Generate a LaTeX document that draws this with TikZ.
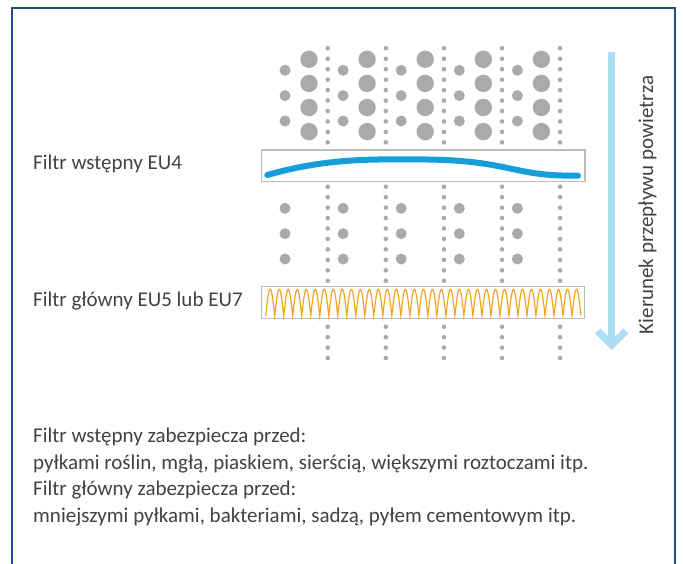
\documentclass[tikz,border=0pt]{standalone}
\usepackage{fontspec}
\setmainfont{Carlito}
\usepackage{xcolor}
\definecolor{framebl}{RGB}{30,78,140}
\definecolor{dotgray}{RGB}{170,170,172}
\definecolor{boxgray}{RGB}{188,188,188}
\definecolor{prefblue}{RGB}{22,158,218}
\definecolor{mainorange}{RGB}{245,165,35}
\definecolor{flowblue}{RGB}{172,221,243}
\definecolor{txtgray}{RGB}{66,66,66}

\begin{document}
\begin{tikzpicture}[x=1pt, y=-1pt,
		filterbox/.style={draw=boxgray, line width=1.5pt, fill=white},
		lbl/.style={font=\fontsize{21}{25}\selectfont, text=txtgray, inner sep=0pt, anchor=base west},
		flow/.style={draw=flowblue, line width=7.3pt}]
		\useasboundingbox (0,0) rectangle (683,563);
		\draw[framebl, line width=1.5pt] (12,580) -- (12,8) -- (675,8) -- (675,580);
		% kolumny kropek
		\foreach \i in {0,...,4} {
			\foreach \j in {0,...,9} {
				\fill[dotgray] (327.7+58.1*\i, 48.3+10.45*\j) circle (2.3pt);
				\fill[dotgray] (327.7+58.1*\i, 186.7+10.45*\j) circle (2.3pt);
			}
			\foreach \j in {0,...,3} {
				\fill[dotgray] (327.7+58.1*\i, 326.7+10.45*\j) circle (2.3pt);
				\fill[dotgray] (309+58.1*\i, 59.3+24.1*\j) circle (8.7pt);
			}
			\foreach \j in {0,...,2} {
				\fill[dotgray] (285+58.1*\i, 70.3+25.35*\j) circle (5.5pt);
				\fill[dotgray] (285+58.1*\i, 208.3+25.35*\j) circle (5.5pt);
			}
		}
		% filtr wstepny
		\draw[filterbox] (261.7,150) rectangle (585,181.7);
		\draw[prefblue, line width=6pt, line cap=round] (267.3,175) .. controls (320,160) and (360,159.3) .. (405,159.3)
			.. controls (460,159.3) and (480,162) .. (515,169.5) .. controls (540,175) and (555,175.7) .. (578,175.7);
		% filtr glowny
		\draw[filterbox] (261.7,286.7) rectangle (584.3,318.3);
		\draw[mainorange, line width=1.2pt] plot[domain=0:35, samples=841] ({265.7+9.01*\x}, {316-26.7*abs(sin(180*\x))});
		% kierunek
		\coordinate (flowtop) at (611.7,51.7);
		\coordinate (flowend) at (611.7,345);
		\draw[flow] (flowtop) -- (flowend);
		\draw[flow, line join=miter] (flowend) ++(-14,-14) -- (flowend) -- ++(14,-14);
		\node[lbl, anchor=base, rotate=90] (flowlbl) at (653,205) {Kierunek przepływu powietrza};
		\node[lbl] (prelbl) at (33,169.5) {Filtr wstępny EU4};
		\node[lbl] (mainlbl) at (33,306) {Filtr główny EU5 lub EU7};
		\node[lbl] (note1) at (33,442.5) {Filtr wstępny zabezpiecza przed:};
		\node[lbl] (note2) at (33,469) {pyłkami roślin, mgłą, piaskiem, sierścią, większymi roztoczami itp.};
		\node[lbl] (note3) at (33,495.5) {Filtr główny zabezpiecza przed:};
		\node[lbl] (note4) at (33,522) {mniejszymi pyłkami, bakteriami, sadzą, pyłem cementowym itp.};
	\end{tikzpicture}
\end{document}
